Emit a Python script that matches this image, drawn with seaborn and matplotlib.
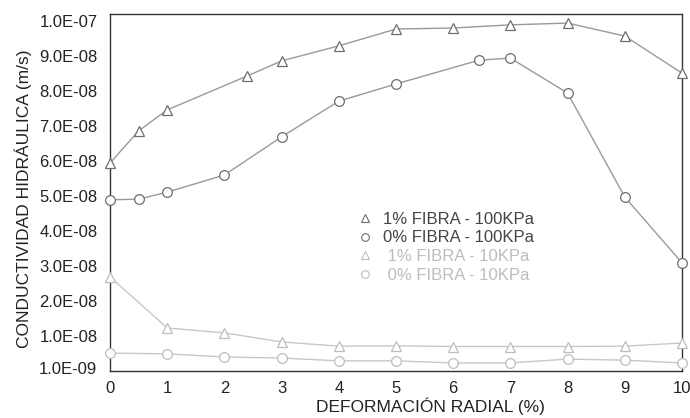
import matplotlib
matplotlib.use("Agg")
import matplotlib.pyplot as plt
from matplotlib.lines import Line2D
import seaborn as sns
import pandas as pd

# ---- data ----
x_1f_100 = [0, 0.5, 1, 2.4, 3, 4, 5, 6, 7, 8, 9, 10]
y_1f_100 = [5.94e-8, 6.86e-8, 7.46e-8, 8.43e-8, 8.86e-8, 9.29e-8, 9.77e-8,
            9.80e-8, 9.89e-8, 9.94e-8, 9.57e-8, 8.51e-8]

x_0f_100 = [0, 0.5, 1, 2, 3, 4, 5, 6.45, 7, 8, 9, 10]
y_0f_100 = [4.89e-8, 4.91e-8, 5.11e-8, 5.60e-8, 6.69e-8, 7.71e-8, 8.20e-8,
            8.88e-8, 8.94e-8, 7.94e-8, 4.97e-8, 3.09e-8]

x_1f_10 = [0, 1, 2, 3, 4, 5, 6, 7, 8, 9, 10]
y_1f_10 = [2.69e-8, 1.23e-8, 1.09e-8, 0.83e-8, 0.71e-8, 0.72e-8, 0.70e-8,
           0.70e-8, 0.70e-8, 0.71e-8, 0.80e-8]

x_0f_10 = [0, 1, 2, 3, 4, 5, 6, 7, 8, 9, 10]
y_0f_10 = [0.51e-8, 0.49e-8, 0.40e-8, 0.37e-8, 0.29e-8, 0.29e-8, 0.23e-8,
           0.23e-8, 0.34e-8, 0.31e-8, 0.23e-8]

series_names = ["1% FIBRA - 100KPa", "0% FIBRA - 100KPa",
                " 1% FIBRA - 10KPa", " 0% FIBRA - 10KPa"]
y_ticks = [1e-9, 1e-8, 2e-8, 3e-8, 4e-8, 5e-8, 6e-8, 7e-8, 8e-8, 9e-8, 1e-7]
y_tick_labels = ["1.0E-09", "1.0E-08", "2.0E-08", "3.0E-08", "4.0E-08",
                 "5.0E-08", "6.0E-08", "7.0E-08", "8.0E-08", "9.0E-08",
                 "1.0E-07"]
x_ticks = list(range(0, 11))

# ---- styling ----
sns.set_theme(style="white")
plt.rcParams["font.family"] = ["Liberation Sans", "DejaVu Sans"]

line_colors = ["#9a9a9a", "#9a9a9a", "#c8c8c8", "#c8c8c8"]
edge_colors = ["#6e6e6e", "#6e6e6e", "#bdbdbd", "#bdbdbd"]
text_colors = ["#444444", "#444444", "#bdbdbd", "#bdbdbd"]
markers = ["^", "o", "^", "o"]

frames = []
for name, xs, ys in zip(series_names,
                        [x_1f_100, x_0f_100, x_1f_10, x_0f_10],
                        [y_1f_100, y_0f_100, y_1f_10, y_0f_10]):
    frames.append(pd.DataFrame({"x": xs, "y": ys, "serie": name}))
df = pd.concat(frames, ignore_index=True)

fig = plt.figure(figsize=(6.9, 4.18), dpi=100)
ax = fig.add_axes([110 / 690, 1 - 371 / 418, 572 / 690, 357 / 418])

for i, name in enumerate(series_names):
    sub = df[df["serie"] == name]
    sns.lineplot(data=sub, x="x", y="y", ax=ax, color=line_colors[i],
                 linewidth=1.0, marker=markers[i],
                 markersize=7.5 if markers[i] == "^" else 7,
                 markerfacecolor="white", markeredgecolor=edge_colors[i],
                 markeredgewidth=0.9, sort=False, estimator=None,
                 legend=False, clip_on=False, zorder=3)

ax.set_xlim(0, 10)
ax.set_ylim(0, 1.02e-7)
ax.set_xticks(x_ticks)
ax.set_xticklabels([str(t) for t in x_ticks])
ax.set_yticks(y_ticks)
ax.set_yticklabels(y_tick_labels)
ax.tick_params(axis="both", length=0, labelsize=12, colors="#222222")
ax.tick_params(axis="y", pad=9)
ax.tick_params(axis="x", pad=7)

for sp in ax.spines.values():
    sp.set_visible(True)
    sp.set_color("#333333")
    sp.set_linewidth(1.0)

ax.set_xlabel("DEFORMACIÓN RADIAL (%)", fontsize=12.5, color="#222222")
ax.set_ylabel("CONDUCTIVIDAD HIDRÁULICA (m/s)", fontsize=12.5, color="#222222")
ax.xaxis.set_label_coords(0.56, -0.075)
ax.yaxis.set_label_coords(-0.137, 0.482)

handles = [Line2D([], [], linestyle="none", marker=markers[i],
                  markersize=6 if markers[i] == "^" else 5.5,
                  markerfacecolor="white", markeredgecolor=edge_colors[i],
                  markeredgewidth=0.8)
           for i in range(4)]
leg = ax.legend(handles, series_names, loc="upper left",
                bbox_to_anchor=((350 - 110) / 572, (371 - 205) / 357),
                frameon=False, fontsize=12, handlelength=1.0,
                handletextpad=0.6, labelspacing=0.22, borderaxespad=0)
for t, c in zip(leg.get_texts(), text_colors):
    t.set_color(c)

fig.savefig("out.png", dpi=100)
